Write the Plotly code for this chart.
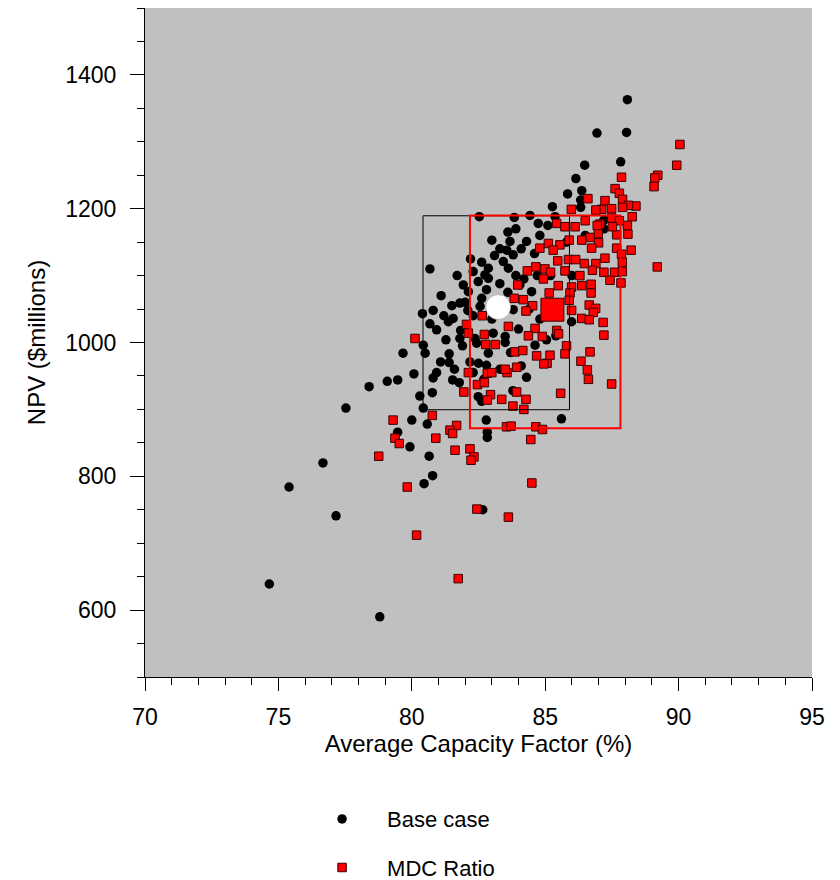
import plotly.graph_objects as go

# ---------------- data ----------------
base_cf = [
    74.66, 78.8, 75.4, 77.16, 76.67, 77.53, 78.4, 79.08, 79.47, 79.67, 79.47, 82.66, 85.61, 84.3, 82.79, 82.83, 82.83,
    80.08, 80.93, 80.8, 81.08, 81.4, 81.53, 81.78, 80.77, 80.3, 80.43, 80.0, 80.58, 79.93, 80.65, 80.78, 80.46,
    82.49, 82.62, 82.5, 82.8, 83.79, 82.18,
    80.68, 83.0, 83.68, 83.56, 83.8, 82.62, 83.43, 83.62, 82.87, 82.3, 82.74, 82.87, 82.49, 83.3, 81.93, 82.12,
    82.8, 82.62, 81.8, 80.8, 80.4, 81.55, 81.37, 80.68, 80.93, 81.83, 81.28, 81.8, 80.43, 80.5, 81.4, 82.37,
    82.43, 82.87, 83.5, 83.05, 82.56, 83.8,
    88.08, 86.94, 88.05, 86.48, 87.83, 86.15, 86.37, 85.84, 86.33, 86.33, 85.27, 84.43, 84.74, 85.37, 82.53,
    83.84, 87.2, 87.2, 84.3, 84.6, 84.05, 84.49, 85.05, 85.99, 84.62,
    83.9, 84.1, 83.6, 84.8, 85.1, 83.3, 83.1, 82.2, 81.7, 82.0, 81.5, 81.1, 82.3, 82.1, 81.2, 83.6, 83.9, 84.2,
    84.4, 84.0, 83.7, 84.1, 83.3, 82.7, 82.3, 81.9, 81.6, 83.0, 83.5, 84.8, 85.4, 86.0, 85.8, 86.5, 85.2, 84.7,
]
base_npv = [
    639, 590, 784, 741, 820, 902, 934, 942, 944, 984, 866, 750, 886, 948, 884, 866, 858,
    953, 955, 947, 971, 970, 944, 940, 925, 920, 902, 884, 878, 844, 830, 801, 789,
    919, 912, 969, 966, 928, 971,
    1110, 1153, 1151, 1138, 1131, 1120, 1121, 1111, 1111, 1106, 1101, 1096, 1091, 1088, 1086, 1076,
    1079, 1066, 1059, 1048, 1043, 1036, 1031, 1028, 1019, 1018, 1004, 1006, 996, 984, 983, 1006,
    999, 984, 1009, 1014, 1054, 1049,
    1363, 1313, 1314, 1265, 1270, 1245, 1227, 1222, 1213, 1202, 1203, 1190, 1178, 1188, 1188,
    1187, 1183, 1170, 1151, 1133, 1086, 1076, 1004, 1031, 996,
    1170, 1140, 1165, 1160, 1175, 1140, 1130, 1125, 1100, 1060, 1055, 1070, 1040, 1048, 1040, 1075, 1100, 1095,
    1050, 1020, 985, 965, 960, 945, 955, 995, 960, 1035, 1000, 1035, 1010, 1100, 1150, 1160, 1100, 1100,
]

mdc_cf = [
    79.3, 79.37, 79.53, 78.76, 79.83, 82.44, 83.62, 80.18, 81.74, 84.5,
    86.34, 86.58, 86.62, 87.49, 85.58, 84.28, 84.2, 84.65, 84.9, 84.46, 85.07, 84.95,
    82.12, 82.46, 82.72, 82.83, 83.0, 83.57, 83.5, 83.93, 82.95, 82.83, 83.37, 83.79, 83.93, 81.95, 80.77,
    81.68, 81.43, 81.53, 80.9, 81.62, 82.18, 82.33, 82.22, 83.55, 83.72,
    80.12, 82.05, 82.12, 82.64, 82.72, 82.77, 83.13, 83.62, 83.84, 83.97, 83.87,
    86.99, 87.68, 88.1, 86.68, 86.37, 87.0, 85.9, 85.55, 85.12, 84.8, 85.3, 86.74, 87.68, 87.86, 85.87, 86.14,
    86.47, 86.9, 87.24, 85.47, 84.65, 84.99, 85.2, 84.33, 85.74, 86.77, 87.2, 87.6, 87.89, 86.3, 84.93, 87.43,
    87.84, 85.49, 85.99, 86.37, 86.72, 85.15, 86.72, 85.93, 84.18, 84.53, 85.9, 84.28, 86.65, 86.89, 85.99,
    86.8, 86.37, 86.65, 87.17, 84.62, 85.43, 85.5, 87.2, 84.89, 84.37, 85.8, 86.68, 84.16, 84.68, 85.18, 85.74,
    90.05, 89.93, 89.22, 89.11, 89.08, 87.86, 87.62, 87.78, 87.9, 88.4, 88.12, 87.9, 87.24, 87.12, 87.49, 86.6,
    85.98, 88.26, 86.5, 85.43, 87.05, 87.49, 88.08,
    87.78, 88.22, 87.89, 89.2, 86.9, 86.95, 85.74, 86.12, 87.52,
]
mdc_npv = [
    884, 857, 849, 830, 784, 751, 739, 712, 647, 790,
    972, 959, 945, 938, 924, 915, 900, 874, 870, 855, 969, 968,
    955, 937, 940, 954, 955, 955, 960, 963, 922, 914, 915, 905, 926, 926, 891,
    876, 869, 864, 857, 839, 841, 829, 824, 874, 875,
    1006, 1027, 1014, 1040, 1012, 997, 997, 1024, 1066, 1086, 986,
    1163, 1161, 1162, 1157, 1153, 1149, 1153, 1146, 1148, 1141, 1138, 1141, 1141, 1132, 1124, 1124,
    1118, 1118, 1126, 1122, 1113, 1110, 1105, 1107, 1107, 1108, 1105, 1105, 1106, 1100, 1095, 1093,
    1089, 1085, 1083, 1085, 1087, 1074, 1074, 1074, 1064, 1055, 1063, 1047, 1056, 1051, 1048,
    1045, 1036, 1034, 1030, 1021, 1018, 1013, 1011, 1009, 1010, 995, 986, 988, 980, 981, 983,
    1296, 1265, 1250, 1246, 1233, 1247, 1230, 1223, 1214, 1204, 1205, 1202, 1212, 1199, 1200, 1215,
    1199, 1188, 1182, 1178, 1177, 1186, 1175,
    1182, 1138, 1120, 1113, 1198, 1175, 1173, 1173, 1173,
]

# means and ranges (boxes)
base_mean = (83.24, 1053)
mdc_mean = (85.27, 1049)
base_box_x = [80.42, 85.91]
base_box_y = [899.5, 1189.4]
mdc_box_x = [82.18, 87.82]
mdc_box_y = [871.7, 1190.0]

series_names = ["Base case", "MDC Ratio"]
x_title = "Average Capacity Factor (%)"
y_title = "NPV ($millions)"

FONT = "Arial, Liberation Sans, sans-serif"

fig = go.Figure()

fig.add_trace(go.Scatter(
    x=base_cf, y=base_npv, mode="markers", name=series_names[0],
    marker=dict(symbol="circle", size=9.5, color="black", line=dict(width=0)),
    legendgroup="a",
))
fig.add_trace(go.Scatter(
    x=[base_mean[0]], y=[base_mean[1]], mode="markers", showlegend=False,
    marker=dict(symbol="circle", size=25, color="white", line=dict(width=0.5, color="#808080")),
))
fig.add_trace(go.Scatter(
    x=mdc_cf, y=mdc_npv, mode="markers", name=series_names[1],
    marker=dict(symbol="square", size=8.5, color="#FF0000", line=dict(width=1, color="#3a0000")),
    legendgroup="b",
))
fig.add_trace(go.Scatter(
    x=[mdc_mean[0]], y=[mdc_mean[1]], mode="markers", showlegend=False,
    marker=dict(symbol="square", size=23, color="#FF0000", line=dict(width=1, color="#3a0000")),
))

fig.add_shape(type="rect", xref="x", yref="y",
              x0=base_box_x[0], x1=base_box_x[1], y0=base_box_y[0], y1=base_box_y[1],
              line=dict(color="black", width=1), layer="above")
fig.add_shape(type="rect", xref="x", yref="y",
              x0=mdc_box_x[0], x1=mdc_box_x[1], y0=mdc_box_y[0], y1=mdc_box_y[1],
              line=dict(color="#FF0000", width=2), layer="above")

fig.update_layout(
    width=840, height=880,
    margin=dict(l=137, r=36, t=0, b=211, autoexpand=False),
    paper_bgcolor="white",
    plot_bgcolor="#C0C0C0",
    font=dict(family=FONT, size=20, color="black"),
    showlegend=True,
    legend=dict(
        x=0.228, y=-0.181, xanchor="left", yanchor="top",
        font=dict(family=FONT, size=22, color="black"),
        bgcolor="rgba(0,0,0,0)", tracegroupgap=17, itemwidth=80,
    ),
    xaxis=dict(
        range=[70, 95], dtick=5, tick0=70, showgrid=False, zeroline=False,
        showline=True, linecolor="black", linewidth=1,
        ticks="outside", ticklen=13, tickcolor="black", tickwidth=1,
        minor=dict(dtick=1, ticks="outside", ticklen=7, tickcolor="black", showgrid=False),
        title=dict(text=x_title, font=dict(size=24), standoff=6),
        tickfont=dict(size=23), ticklabelstandoff=6,
    ),
    yaxis=dict(
        range=[500, 1500], dtick=200, tick0=0, showgrid=False, zeroline=False,
        showline=True, linecolor="black", linewidth=1,
        ticks="outside", ticklen=14, tickcolor="black", tickwidth=1,
        minor=dict(dtick=50, ticks="outside", ticklen=7, tickcolor="black", showgrid=False),
        title=dict(text=y_title, font=dict(size=24), standoff=12),
        tickfont=dict(size=23), ticklabelstandoff=9,
    ),
)

fig.write_html("out.html")
